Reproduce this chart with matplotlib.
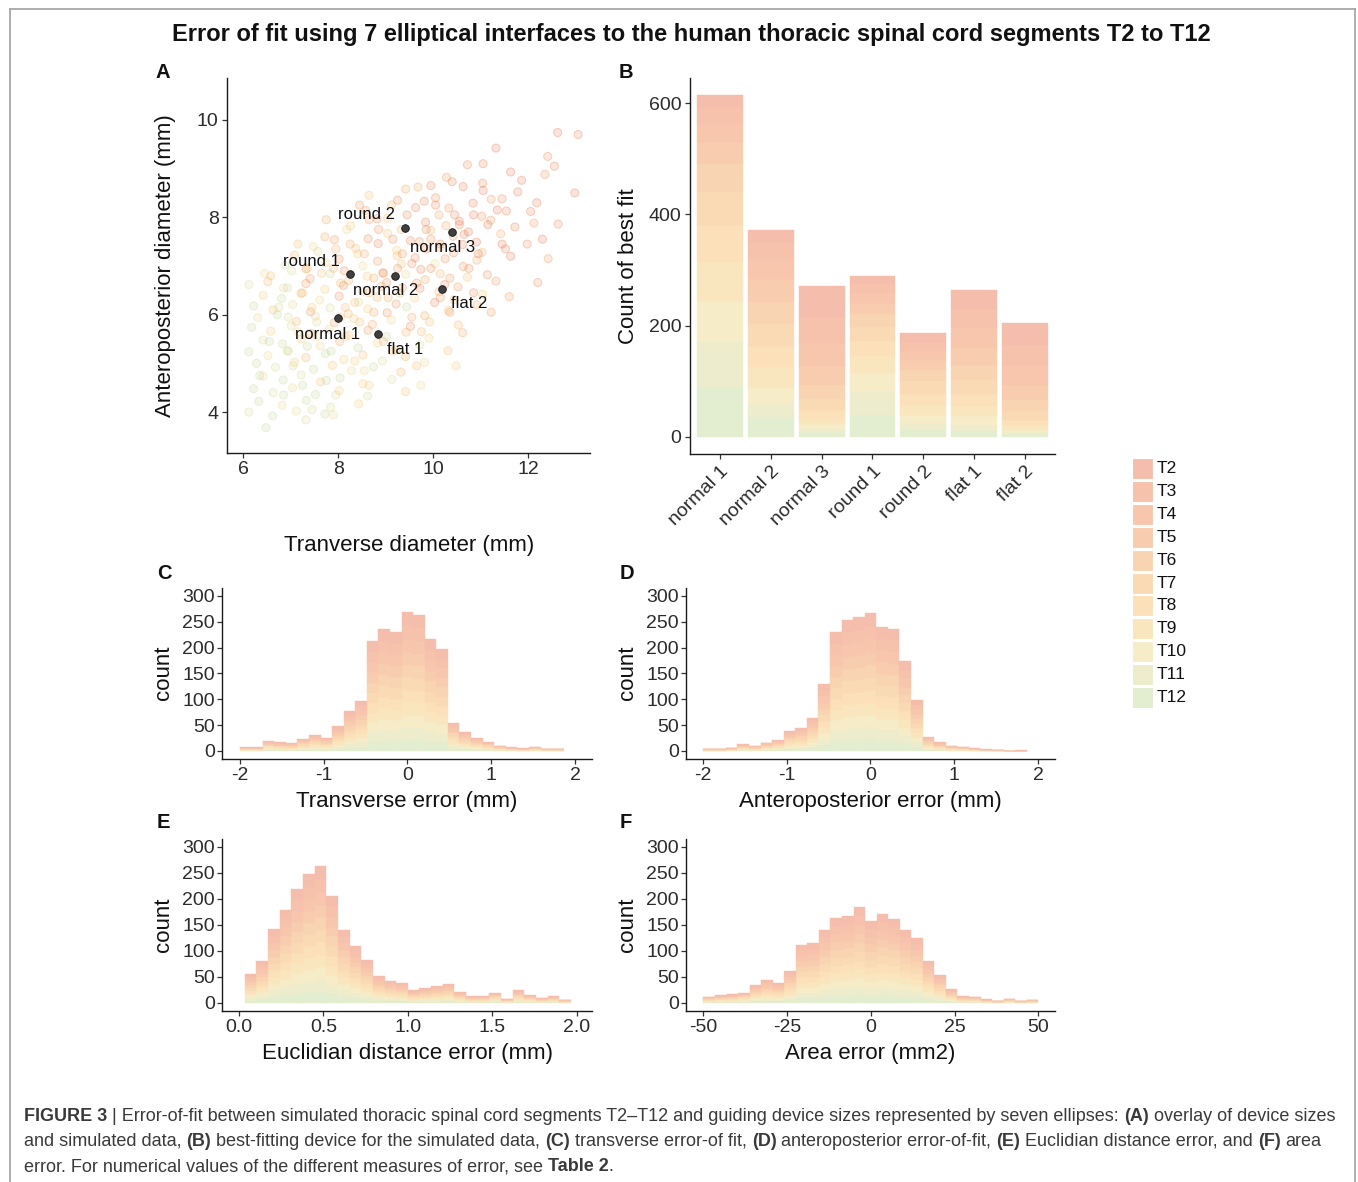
import numpy as np
import matplotlib
matplotlib.use("Agg")
import matplotlib.pyplot as plt
from matplotlib.patches import Rectangle
from matplotlib.lines import Line2D
from matplotlib.colors import to_rgb

plt.rcParams['font.family'] = ['Liberation Sans', 'DejaVu Sans']

W, H = 1358, 1182

# ---------------- data ----------------
segments = ["T2", "T3", "T4", "T5", "T6", "T7", "T8", "T9", "T10", "T11", "T12"]
seg_colors = ["#F5BEAC", "#F6C2AC", "#F7C6AD", "#F8CCAE", "#F9D4B2", "#FADAB5",
              "#FBE0B9", "#FAE6BE", "#F6ECC8", "#EDEDCD", "#E3EDCF"]

# Panel A: device sizes
device_names = ["normal 1", "normal 2", "normal 3", "round 1", "round 2", "flat 1", "flat 2"]
device_x = [7.99, 9.20, 10.40, 8.25, 9.40, 8.83, 10.18]
device_y = [5.93, 6.80, 7.70, 6.84, 7.79, 5.61, 6.53]

# Panel A: simulated cross-sections (approximate positions read from the cloud)
scatter_x = [
    12.62, 13.05,
    11.32, 12.41, 11.05,
    10.72, 11.63, 12.55, 10.28,
    11.04, 11.86, 12.35, 12.98, 9.68,
    9.42, 10.05, 10.63, 11.22, 11.78, 12.18, 10.40,
    9.12, 9.81, 10.33, 10.84, 11.45, 12.05, 8.65,
    8.58, 9.04, 9.63, 10.12, 10.55, 11.02, 11.54, 12.12,
    8.26, 8.82, 9.33, 9.84, 10.27, 10.74, 11.21, 11.72, 12.63, 12.30,
    7.72, 8.18, 8.63, 9.04, 9.52, 9.95, 10.42, 10.91, 11.42, 11.98,
    7.48, 7.92, 8.37, 8.84, 9.23, 9.71, 10.14, 10.62, 11.03, 11.52,
    7.08, 7.57, 8.02, 8.41, 8.83, 9.24, 9.62, 10.04, 10.43, 10.92, 11.63, 12.42,
    6.88, 7.32, 7.74, 8.13, 8.52, 8.94, 9.33, 9.74, 10.15, 10.63, 11.14,
    6.58, 7.02, 7.41, 7.83, 8.22, 8.61, 9.02, 9.42, 9.83, 10.24, 10.72, 11.32,
    6.12, 6.52, 6.93, 7.32, 7.72, 8.11, 8.52, 8.91, 9.30, 9.72, 10.12, 10.52, 11.04, 12.20,
    6.42, 6.81, 7.22, 7.61, 8.02, 8.43, 8.82, 9.22, 9.61, 10.03, 10.44, 10.92, 11.60,
    6.22, 6.63, 7.04, 7.42, 7.83, 8.21, 8.62, 9.03, 9.44, 9.82, 10.32, 11.22,
    6.31, 6.72, 7.12, 7.52, 7.92, 8.33, 8.72, 9.12, 9.52, 9.92, 10.53,
    6.18, 6.58, 7.01, 7.42, 7.81, 8.22, 8.63, 9.02, 9.43, 9.91, 10.62,
    6.42, 6.83, 7.23, 7.62, 8.03, 8.42, 8.83, 9.22, 9.72, 10.31,
    6.12, 6.52, 6.93, 7.32, 7.73, 8.12, 8.52, 8.93, 9.42, 9.82,
    6.28, 6.68, 7.08, 7.48, 7.88, 8.28, 8.74, 9.32, 10.48,
    6.42, 6.84, 7.22, 7.63, 8.04, 8.52, 9.13, 9.74,
    6.22, 6.63, 7.04, 7.52, 8.02, 8.62, 9.42,
    6.33, 6.82, 7.33, 7.84, 8.43,
    6.12, 6.62, 7.12, 7.72,
    6.48, 7.32, 7.90,
    # denser core
    7.25, 7.90, 8.35, 8.95, 9.55, 10.15, 7.55, 8.15, 8.75, 9.35,
    9.95, 10.65, 6.95, 7.35, 8.05, 8.55, 9.15, 9.85, 10.35, 11.15,
    6.75, 7.65, 8.25, 8.85, 9.45, 10.05, 10.85, 7.15, 7.85, 8.45,
    9.05, 9.65, 10.25, 10.95, 6.55, 7.05, 7.75, 8.35, 8.95, 9.55,
    10.15, 10.75, 11.45, 7.45, 8.05, 8.65, 9.25, 9.85, 10.45, 11.05,
    6.85, 7.35, 7.95, 8.65, 9.25, 9.95, 6.95, 7.55, 8.15, 8.75,
    9.35, 9.95, 10.55, 11.35, 7.25, 7.95, 8.55, 9.15, 9.75, 10.35,
    6.45, 7.15, 7.75, 8.45, 6.35, 6.85, 7.45, 8.65, 9.65, 10.85,
]
scatter_y = [
    9.74, 9.70,
    9.42, 9.25, 9.10,
    9.08, 8.93, 9.05, 8.82,
    8.70, 8.76, 8.88, 8.50, 8.62,
    8.58, 8.40, 8.63, 8.37, 8.52, 8.30, 8.73,
    8.25, 8.33, 8.19, 8.29, 8.38, 8.12, 8.45,
    8.14, 7.98, 8.20, 8.05, 7.92, 8.02, 8.13, 7.88,
    7.82, 7.97, 7.75, 7.90, 7.83, 7.70, 7.94, 7.80, 7.86, 7.55,
    7.60, 7.75, 7.56, 7.67, 7.52, 7.73, 7.61, 7.49, 7.66, 7.45,
    7.40, 7.54, 7.36, 7.46, 7.32, 7.50, 7.38, 7.44, 7.28, 7.35,
    7.22, 7.30, 7.14, 7.25, 7.10, 7.21, 7.17, 7.05, 7.27, 7.12, 7.20, 7.15,
    7.02, 6.94, 7.07, 6.90, 7.00, 6.86, 7.04, 6.93, 6.84, 6.99, 6.82,
    6.80, 6.90, 6.74, 6.84, 6.70, 6.79, 6.66, 6.83, 6.72, 6.62, 6.77, 6.69,
    6.62, 6.68, 6.55, 6.64, 6.52, 6.60, 6.48, 6.58, 6.44, 6.54, 6.47, 6.57, 6.42, 6.66,
    6.40, 6.33, 6.44, 6.30, 6.38, 6.26, 6.36, 6.22, 6.34, 6.25, 6.31, 6.20, 6.37,
    6.18, 6.10, 6.21, 6.06, 6.14, 6.02, 6.12, 6.04, 6.16, 5.98, 6.09, 6.05,
    5.94, 6.00, 5.86, 5.97, 5.84, 5.92, 5.80, 5.89, 5.76, 5.85, 5.79,
    5.74, 5.66, 5.77, 5.62, 5.70, 5.58, 5.68, 5.55, 5.64, 5.52, 5.63,
    5.48, 5.40, 5.50, 5.36, 5.45, 5.32, 5.42, 5.28, 5.38, 5.26,
    5.24, 5.16, 5.26, 5.12, 5.20, 5.08, 5.17, 5.05, 5.14, 5.02,
    5.00, 4.92, 5.02, 4.88, 4.96, 4.85, 4.93, 4.82, 4.95,
    4.74, 4.66, 4.76, 4.62, 4.70, 4.58, 4.67, 4.55,
    4.48, 4.40, 4.50, 4.36, 4.44, 4.33, 4.42,
    4.22, 4.14, 4.24, 4.10, 4.17,
    4.00, 3.92, 4.02, 3.96,
    3.68, 3.84, 3.94,
    # denser core
    6.45, 6.95, 6.25, 6.85, 7.05, 7.45, 5.85, 5.55, 6.05, 6.55,
    6.95, 7.65, 5.95, 5.35, 6.65, 7.25, 7.55, 7.35, 6.75, 7.85,
    6.15, 6.85, 7.45, 7.75, 8.05, 8.25, 8.05, 5.65, 5.25, 5.85,
    6.35, 6.65, 7.15, 7.25, 5.45, 4.95, 4.65, 5.05, 5.45, 5.95,
    6.35, 6.95, 7.45, 6.15, 5.95, 6.45, 6.95, 7.75, 8.05, 8.55,
    6.55, 6.95, 7.35, 7.95, 8.35, 8.65, 5.25, 5.55, 6.15, 6.75,
    7.25, 7.55, 7.85, 8.15, 4.55, 4.35, 4.85, 5.25, 5.65, 6.05,
    6.85, 7.45, 7.95, 8.25, 4.75, 4.35, 4.05, 4.55, 4.95, 6.45,
]
scatter_seg = [
    2, 3,
    2, 4, 3,
    4, 2, 3, 5,
    3, 2, 4, 2, 6,
    6, 4, 2, 5, 3, 2, 3,
    7, 3, 5, 2, 4, 3, 8,
    5, 8, 3, 6, 2, 4, 3, 5,
    9, 4, 7, 3, 6, 2, 5, 3, 4, 2,
    6, 10, 4, 8, 3, 7, 5, 2, 6, 4,
    10, 5, 8, 3, 9, 4, 6, 2, 7, 3,
    7, 11, 4, 9, 5, 8, 3, 10, 4, 6, 2, 5,
    12, 6, 9, 4, 10, 5, 8, 3, 7, 5, 4,
    8, 11, 5, 12, 7, 9, 4, 10, 6, 3, 8, 5,
    11, 7, 12, 5, 9, 4, 10, 6, 8, 3, 7, 5, 9, 4,
    9, 12, 6, 10, 4, 11, 7, 5, 9, 3, 8, 6, 5,
    12, 8, 10, 5, 11, 7, 9, 4, 12, 6, 8, 5,
    10, 12, 7, 11, 5, 9, 6, 10, 4, 8, 7,
    12, 9, 11, 6, 10, 8, 5, 12, 7, 9, 6,
    11, 12, 8, 10, 6, 12, 9, 7, 11, 8,
    12, 10, 11, 7, 12, 9, 8, 11, 6, 10,
    12, 11, 9, 12, 8, 10, 12, 7, 9,
    10, 12, 11, 8, 12, 9, 11, 10,
    12, 11, 10, 12, 9, 11, 8,
    12, 10, 12, 11, 9,
    11, 12, 10, 12,
    12, 11, 10,
    # denser core
    9, 7, 8, 5, 4, 3, 10, 9, 6, 5,
    4, 3, 11, 12, 7, 6, 4, 3, 5, 2,
    11, 8, 6, 4, 3, 3, 2, 10, 12, 8,
    6, 5, 4, 3, 12, 11, 12, 9, 7, 6,
    5, 4, 2, 9, 8, 7, 5, 4, 3, 2,
    10, 8, 7, 5, 4, 3, 11, 10, 8, 6,
    5, 4, 3, 2, 12, 11, 10, 8, 7, 5,
    10, 8, 6, 5, 12, 12, 11, 9, 8, 4,
]

# Panel B: count of best fit per device, split by segment
best_fit = {
    "T2":  [22, 22, 55, 15, 16, 35, 40],
    "T3":  [27, 30, 48, 16, 16, 33, 36],
    "T4":  [35, 37, 40, 18, 17, 34, 35],
    "T5":  [40, 40, 35, 20, 18, 32, 28],
    "T6":  [50, 40, 25, 22, 20, 28, 20],
    "T7":  [60, 40, 20, 25, 22, 25, 15],
    "T8":  [65, 38, 15, 28, 20, 22, 10],
    "T9":  [70, 35, 10, 30, 18, 18, 8],
    "T10": [75, 30, 8, 35, 15, 15, 5],
    "T11": [80, 25, 7, 40, 13, 12, 3],
    "T12": [90, 35, 8, 40, 12, 10, 5],
}

# Panels C-F: histogram counts per bin
transverse_counts = [7, 7, 20, 17, 15, 24, 31, 26, 48, 77, 96, 212, 235, 229,
                     268, 263, 216, 197, 55, 37, 26, 18, 10, 7, 5, 8, 4, 4]
antpost_counts = [4, 4, 6, 13, 10, 16, 21, 39, 45, 64, 130, 229, 254, 258,
                  267, 240, 236, 174, 99, 27, 17, 10, 8, 5, 3, 2, 0, 1]
euclid_counts = [55, 80, 142, 179, 218, 247, 264, 205, 141, 110, 83, 52, 42, 38,
                 24, 28, 32, 36, 21, 13, 13, 20, 8, 24, 15, 10, 13, 6]
area_counts = [12, 15, 17, 20, 34, 44, 38, 61, 112, 115, 141, 163, 168, 184, 157,
               171, 162, 141, 125, 81, 54, 26, 13, 12, 7, 4, 8, 4, 6]
# bins: (left edge of first bin, bin width)
transverse_bins = (-2.0, 4 / 29)
antpost_bins = (-2.0, 4 / 29)
euclid_bins = (1 / 29, 2 / 29)
area_bins = (-50.0, 100 / 29)
# share of each segment (T2..T12) within every histogram bar
hist_seg_share = [0.095, 0.095, 0.094, 0.093, 0.092, 0.091, 0.090, 0.090, 0.089, 0.087, 0.084]

# ---------------- figure ----------------
fig = plt.figure(figsize=(W / 100, H / 100), dpi=100)
fig.patch.set_facecolor("white")

TICK_FS = 14
TITLE_FS = 16


def fx(px):
    return px / W


def fy(py):
    return 1 - py / H


def add_ax(l, t, r, b):
    return fig.add_axes([fx(l), fy(b), (r - l) / W, (b - t) / H])


AXCOL = "#1a1a1a"
TICKLAB = "#2b2b2b"


def style_ax(ax):
    for s in ["top", "right"]:
        ax.spines[s].set_visible(False)
    for s in ["left", "bottom"]:
        ax.spines[s].set_linewidth(1.0)
        ax.spines[s].set_color(AXCOL)
    ax.tick_params(length=3.6, width=0.9, color="#333333", labelsize=TICK_FS,
                   labelcolor=TICKLAB, pad=2.5)
    ax.set_facecolor("white")


def strong(c):
    r, g, b = to_rgb(c)
    return tuple(min(1.0, max(0.0, (v - 0.6) / 0.4)) for v in (r, g, b))


# frame
for (x0, y0, x1, y1) in [(9.5, 8.5, 9.5, H), (9.5, 8.5, 1354.5, 8.5), (1354.5, 8.5, 1354.5, H)]:
    fig.add_artist(Line2D([fx(x0), fx(x1)], [fy(y0), fy(y1)], color="#A8A8A8", lw=1.3))

# title
fig.text(fx(691), fy(35), "Error of fit using 7 elliptical interfaces to the human thoracic spinal cord segments T2 to T12",
         ha="center", va="center", fontsize=17, fontweight="bold", color="#111111")

# panel letters
for lab, (px, py) in zip("ABCDEF", [(163, 72), (626, 72), (164, 574), (627, 574), (163, 823), (626, 823)]):
    fig.text(fx(px), fy(py), lab, ha="center", va="center", fontsize=14.5, fontweight="bold", color="#111111")

# ---------------- Panel A ----------------
axA = add_ax(227, 78, 590, 453)
style_ax(axA)
seg_index = {int(s[1:]): i for i, s in enumerate(segments)}
face = []
edge = []
for sg in scatter_seg:
    c = strong(seg_colors[seg_index[sg]])
    face.append((*c, 0.16))
    edge.append((*c, 0.28))
axA.scatter(scatter_x, scatter_y, s=34, c=face, edgecolors=edge, linewidths=0.7, zorder=2)
axA.scatter(device_x, device_y, s=30, color="#404040", edgecolors="#111111", linewidths=0.6, zorder=4)
label_offsets = {"normal 1": (-0.21, -0.33), "normal 2": (-0.21, -0.31), "normal 3": (-0.20, -0.33),
                 "round 1": (-0.82, 0.26), "round 2": (-0.81, 0.27), "flat 1": (0.58, -0.32),
                 "flat 2": (0.58, -0.31)}
for n, x, y in zip(device_names, device_x, device_y):
    dx, dy = label_offsets[n]
    axA.text(x + dx, y + dy, n, ha="center", va="center", fontsize=12, color="#111111", zorder=5)
axA.set_xlim(5.66, 13.3)
axA.set_ylim(3.16, 10.86)
axA.set_xticks([6, 8, 10, 12])
axA.set_yticks([4, 6, 8, 10])
fig.text(fx(409), fy(545), "Tranverse diameter (mm)", ha="center", va="center", fontsize=TITLE_FS, color="#111111")
fig.text(fx(165), fy(266), "Anteroposterior diameter (mm)", ha="center", va="center", rotation=90,
         fontsize=TITLE_FS, color="#111111")

# ---------------- Panel B ----------------
axB = add_ax(690, 78, 1055, 454)
style_ax(axB)
xpos = np.arange(1, len(device_names) + 1)
bottom = np.zeros(len(device_names))
for seg, col in zip(segments[::-1], seg_colors[::-1]):
    vals = np.array(best_fit[seg], dtype=float)
    axB.bar(xpos, vals, width=0.9, bottom=bottom, color=col, linewidth=0.3, edgecolor=col)
    bottom += vals
axB.set_xlim(0.41, 7.59)
axB.set_ylim(-30.7, 645)
axB.set_yticks([0, 200, 400, 600])
axB.set_xticks(xpos)
axB.set_xticklabels(device_names, rotation=45, ha="right", va="top", rotation_mode="anchor")
fig.text(fx(628), fy(266), "Count of best fit", ha="center", va="center", rotation=90, fontsize=TITLE_FS, color="#111111")

# ---------------- legend ----------------
for i, (seg, col) in enumerate(zip(segments, seg_colors)):
    cy = 469 + i * 22.8
    fig.add_artist(Rectangle((fx(1132), fy(cy + 10.5)), 21 / W, 21 / H, transform=fig.transFigure,
                             facecolor=col, edgecolor="white", lw=0.8))
    fig.text(fx(1157), fy(cy), seg, ha="left", va="center", fontsize=12.5, color="#111111")


# ---------------- histograms ----------------
def hist_panel(box, counts, bins, xlim, xticks, xticklabels, xlabel, label_center):
    ax = add_ax(*box)
    style_ax(ax)
    start, width = bins
    n = len(counts)
    lefts = start + width * np.arange(n)
    tot = np.array(counts, dtype=float)
    bottom = np.zeros(n)
    for share, col in zip(hist_seg_share[::-1], seg_colors[::-1]):
        h = tot * share
        ax.bar(lefts, h, width=width, bottom=bottom, align="edge", color=col, linewidth=0.3, edgecolor=col)
        bottom += h
    ax.set_xlim(*xlim)
    ax.set_ylim(-15.5, 315)
    ax.set_yticks([0, 50, 100, 150, 200, 250, 300])
    ax.set_xticks(xticks)
    ax.set_xticklabels(xticklabels)
    ax.tick_params(axis="y", pad=1.5)
    fig.text(fx(label_center[0]), fy(label_center[1]), xlabel, ha="center", va="center", fontsize=TITLE_FS, color="#111111")
    return ax


hist_panel((222, 588, 592, 759), transverse_counts, transverse_bins, (-2.21, 2.2),
           [-2, -1, 0, 1, 2], ["-2", "-1", "0", "1", "2"], "Transverse error (mm)", (407, 802))
hist_panel((686, 588, 1055, 759), antpost_counts, antpost_bins, (-2.2, 2.2),
           [-2, -1, 0, 1, 2], ["-2", "-1", "0", "1", "2"], "Anteroposterior error (mm)", (870, 802))
hist_panel((222, 839, 592, 1011), euclid_counts, euclid_bins, (-0.1, 2.09),
           [0, 0.5, 1.0, 1.5, 2.0], ["0.0", "0.5", "1.0", "1.5", "2.0"], "Euclidian distance error (mm)", (407, 1054))
hist_panel((686, 839, 1055, 1011), area_counts, area_bins, (-55.2, 55),
           [-50, -25, 0, 25, 50], ["-50", "-25", "0", "25", "50"], "Area error (mm2)", (870, 1054))
for px, py in [(164, 673), (628, 673), (164, 925), (628, 925)]:
    fig.text(fx(px), fy(py), "count", ha="center", va="center", rotation=90, fontsize=TITLE_FS, color="#111111")

# ---------------- caption ----------------
CAPCOL = "#3a3a3a"
renderer = fig.canvas.get_renderer()


def text_width(s, size, bold):
    t = fig.text(0, 0, s, fontsize=size, fontweight="bold" if bold else "normal")
    w = t.get_window_extent(renderer).width
    t.remove()
    return w


cap_lines = [
    [("FIGURE 3", True), (" | Error-of-fit between simulated thoracic spinal cord segments T2\u2013T12 and guiding device sizes represented by seven ellipses: ", False),
     ("(A)", True), (" overlay of device sizes", False)],
    [("and simulated data, ", False), ("(B)", True), (" best-fitting device for the simulated data, ", False),
     ("(C)", True), (" transverse error-of fit, ", False), ("(D)", True), (" anteroposterior error-of-fit, ", False),
     ("(E)", True), (" Euclidian distance error, and ", False), ("(F)", True), (" area", False)],
    [("error. For numerical values of the different measures of error, see ", False), ("Table 2", True), (".", False)],
]


def line_width(parts, size):
    sp = text_width("a a", size, False) - text_width("aa", size, False)
    w = 0
    for txt, b in parts:
        lead = len(txt) - len(txt.lstrip(" "))
        trail = len(txt) - len(txt.rstrip(" "))
        core = txt.strip(" ")
        w += lead * sp
        if core:
            w += text_width(core, size, b)
        w += trail * sp
    return w, sp


base = 11.0
w0, _ = line_width(cap_lines[0], base)
cap_size = base * (1311 / w0)

for li, parts in enumerate(cap_lines):
    x = 24.0
    ybase = 1121 + li * 25
    _, sp = line_width(parts, cap_size)
    for txt, b in parts:
        lead = len(txt) - len(txt.lstrip(" "))
        trail = len(txt) - len(txt.rstrip(" "))
        core = txt.strip(" ")
        x += lead * sp
        if core:
            t = fig.text(fx(x), fy(ybase), core, fontsize=cap_size, fontweight="bold" if b else "normal",
                         color=CAPCOL, ha="left", va="baseline")
            x += t.get_window_extent(renderer).width
        x += trail * sp

fig.savefig("out.png", dpi=100, facecolor="white")
